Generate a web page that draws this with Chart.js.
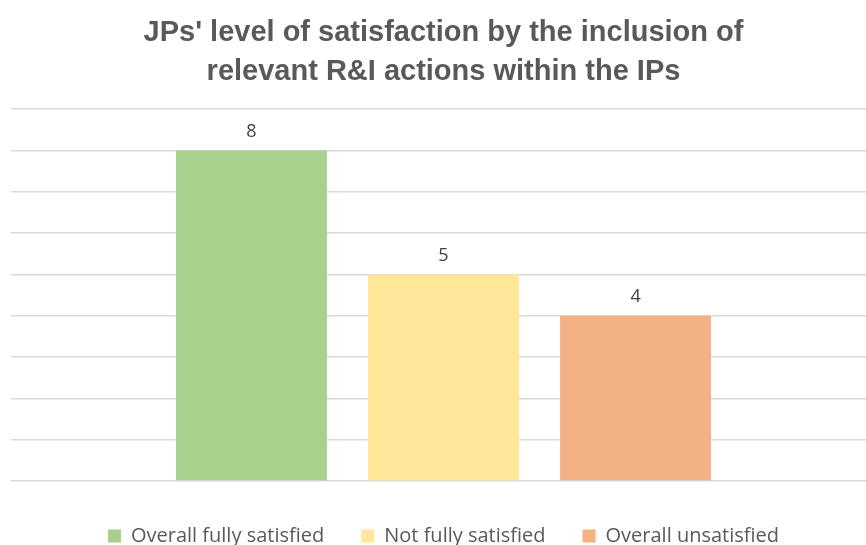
<!DOCTYPE html>
<html>
<head>
<meta charset="utf-8">
<script src="https://cdn.jsdelivr.net/npm/chart.js@4/dist/chart.umd.min.js"></script>
<style>
  html, body { margin: 0; padding: 0; background: #fff; overflow: hidden; }
  #wrap { width: 866px; height: 545px; overflow: hidden; }
</style>
</head>
<body>
<div id="wrap"><canvas id="chart" width="876" height="556"></canvas></div>
<script>
const categories = [''];
const seriesNames = ['Overall fully satisfied', 'Not fully satisfied', 'Overall unsatisfied'];
const seriesValues = [[8], [5], [4]];
const seriesColors = ['#a9d18e', '#ffe699', '#f4b183'];

// draws the value above each bar
const valueLabels = {
  id: 'valueLabels',
  afterDatasetsDraw(chart) {
    const ctx = chart.ctx;
    ctx.save();
    ctx.font = '18px "Open Sans"';
    ctx.fillStyle = '#404040';
    ctx.textAlign = 'center';
    ctx.textBaseline = 'middle';
    chart.data.datasets.forEach((ds, i) => {
      chart.getDatasetMeta(i).data.forEach((bar, j) => {
        ctx.fillText(ds.data[j], bar.x, bar.y - 19);
      });
    });
    ctx.restore();
  }
};

const ctx = document.getElementById('chart').getContext('2d');
const chart = new Chart(ctx, {
  type: 'bar',
  data: {
    labels: categories,
    datasets: seriesNames.map((name, i) => ({
      label: name,
      data: seriesValues[i],
      backgroundColor: seriesColors[i],
      categoryPercentage: 0.666,
      barPercentage: 0.786,
    })),
  },
  options: {
    responsive: false,
    animation: false,
    layout: { padding: { left: 11, right: 0, top: 14, bottom: 0 } },
    plugins: {
      title: {
        display: true,
        text: ["JPs' level of satisfaction by the inclusion of", 'relevant R&I actions within the IPs'],
        color: '#595959',
        font: { family: '"Liberation Sans", Arial', size: 29, weight: 'bold', lineHeight: 1.33 },
        padding: { top: 0, bottom: 18 },
      },
      legend: {
        position: 'bottom',
        labels: {
          color: '#595959',
          font: { family: '"Open Sans"', size: 20 },
          boxWidth: 13,
          boxHeight: 13,
          padding: 37,
        },
      },
      tooltip: { enabled: false },
    },
    scales: {
      x: {
        ticks: { display: false },
        grid: { display: false },
        border: { display: false },
      },
      y: {
        min: 0,
        max: 9,
        ticks: { display: false, stepSize: 1 },
        grid: { color: '#d9d9d9', lineWidth: 1.5, drawTicks: false },
        border: { display: false },
      },
    },
  },
  plugins: [valueLabels],
});
</script>
</body>
</html>
